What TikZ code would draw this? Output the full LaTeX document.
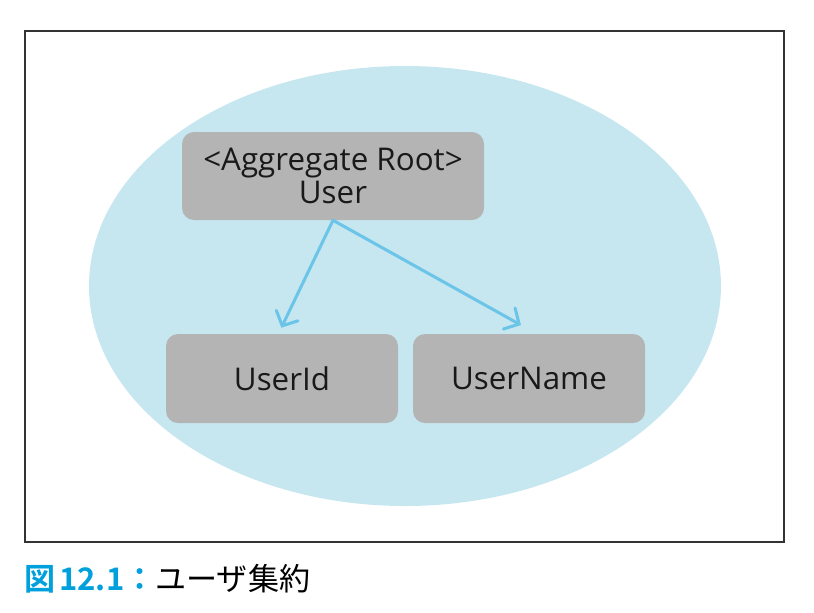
\documentclass[tikz,border=0pt]{standalone}
\usepackage{fontspec}
\setmainfont{Open Sans}
\newfontfamily\cjk{Noto Sans CJK JP}
\newfontfamily\cjkbold{Noto Sans CJK JP Bold}
\usetikzlibrary{arrows.meta}
\definecolor{ellfill}{HTML}{C7E7F0}
\definecolor{boxfill}{HTML}{B4B4B4}
\definecolor{arrowc}{HTML}{6CC5E8}
\definecolor{capblue}{HTML}{00A0DC}
\definecolor{framec}{HTML}{333333}
\tikzset{
  entity/.style={fill=boxfill, rounded corners=9pt, inner sep=0pt, align=center,
    font=\fontsize{23.5}{24.75}\selectfont, text=black!90},
  link/.style={draw=arrowc, line width=2.3pt, line cap=round,
    -{Straight Barb[length=8.5pt,width=18pt,line cap=round]}},
}
\begin{document}
\begin{tikzpicture}[x=0.75pt,y=-0.75pt]
\useasboundingbox (0,0) rectangle (814,612);
\draw[framec, line width=1.1pt] (25,31) rectangle (784,542);
\fill[ellfill] (405,286) ellipse [x radius=316, y radius=220];
\node[entity, minimum width=226.5pt, minimum height=66pt] (root) at (333,176)
  {<Aggregate Root>\\User};
\node[entity, minimum width=174pt, minimum height=66.75pt] (uid) at (282,378.5) {UserId};
\node[entity, minimum width=174pt, minimum height=66.75pt] (uname) at (529,378.5) {UserName};
\draw[link] (root.south) -- ([xshift=-0.5pt,yshift=4.5pt]uid.north);
\draw[link] (root.south) -- ([xshift=-6pt,yshift=6.5pt]uname.north);
\node[anchor=base west, inner sep=0pt, font=\fontsize{23.3}{23.3}\selectfont] (cap) at (24,590)
  {{\cjkbold\color{capblue}図\kern3pt12.1：}{\cjk ユーザ集約}};
\end{tikzpicture}
\end{document}
